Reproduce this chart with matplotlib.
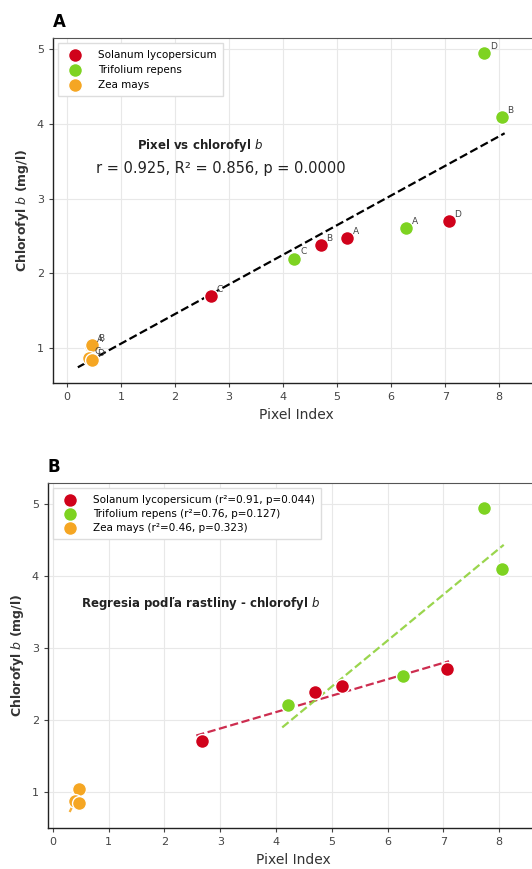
import numpy as np
import matplotlib.pyplot as plt

# Data: pixel index vs chlorophyll b, per species, samples A-D
species = ["Solanum lycopersicum", "Trifolium repens", "Zea mays"]
colors = ["#d0021b", "#7ed321", "#f5a623"]
line_colors = ["#c8163c", "#8fd13a", "#f5a623"]
sample_ids = ["A", "B", "C", "D"]

sol_x = [5.19, 4.70, 2.67, 7.07]
sol_y = [2.47, 2.38, 1.70, 2.70]
tri_x = [6.28, 8.05, 4.21, 7.72]
tri_y = [2.61, 4.09, 2.20, 4.95]
zea_x = [0.45, 0.47, 0.40, 0.46]
zea_y = [1.03, 1.04, 0.87, 0.84]

xs = [sol_x, tri_x, zea_x]
ys = [sol_y, tri_y, zea_y]

stats_text = "r = 0.925, R² = 0.856, p = 0.0000"
group_stats = ["(r²=0.91, p=0.044)", "(r²=0.76, p=0.127)", "(r²=0.46, p=0.323)"]

fig = plt.figure(figsize=(5.32, 8.69), dpi=100)
axA = fig.add_axes([0.0996, 0.559, 0.915, 0.397])
axB = fig.add_axes([0.090, 0.047, 0.924, 0.397])


def style(ax):
    ax.grid(True, color="#e8e8e8", linewidth=0.8)
    ax.set_axisbelow(True)
    for s in ["left", "bottom"]:
        ax.spines[s].set_color("#222222")
        ax.spines[s].set_linewidth(1.0)
    ax.spines["top"].set_color("#555555")
    ax.spines["right"].set_visible(False)
    ax.tick_params(labelsize=8, colors="#444444", length=3)
    ax.set_xticks(range(0, 9))
    ax.set_yticks([1, 2, 3, 4, 5])
    ax.set_xlabel("Pixel Index", fontsize=10, color="#333333")
    ax.set_ylabel(r"Chlorofyl $\bf{\it{b}}$ (mg/l)", fontsize=9,
                  fontweight="bold", color="#333333")


# Panel A
style(axA)
for name, c, x, y in zip(species, colors, xs, ys):
    axA.scatter(x, y, s=100, color=c, edgecolor="white", linewidth=1,
                label=name, zorder=3)
    for xi, yi, sid in zip(x, y, sample_ids):
        axA.annotate(sid, (xi, yi), xytext=(4, 3), textcoords="offset points",
                     fontsize=6.5, color="#444444", zorder=4)

all_x = np.concatenate([np.array(x) for x in xs])
all_y = np.concatenate([np.array(y) for y in ys])
k, b = np.polyfit(all_x, all_y, 1)
lx = np.linspace(all_x.min() - 0.2, all_x.max() + 0.05, 50)
axA.plot(lx, k * lx + b, "k--", linewidth=1.6, zorder=2)

axA.text(2.47, 3.72, r"Pixel vs chlorofyl $\bf{\it{b}}$", fontsize=8.5,
         fontweight="bold", ha="center", va="center", color="#222222")
axA.text(2.85, 3.4, stats_text, fontsize=10.5, ha="center", va="center",
         color="#222222")
axA.set_xlim(-0.26, 8.75)
axA.set_ylim(0.53, 5.15)
axA.legend(loc="upper left", fontsize=7.5, frameon=True, framealpha=1,
           edgecolor="#dddddd", fancybox=False, handletextpad=1.2,
           borderpad=0.6, labelspacing=0.5)
axA.text(0.0, 1.02, "A", transform=axA.transAxes, fontsize=12,
         fontweight="bold", ha="left", va="bottom")

# Panel B
style(axB)
for name, c, lc, x, y, st in zip(species, colors, line_colors, xs, ys,
                                 group_stats):
    x = np.array(x)
    y = np.array(y)
    axB.scatter(x, y, s=100, color=c, edgecolor="white", linewidth=1,
                label=f"{name} {st}", zorder=3)
    kk, bb = np.polyfit(x, y, 1)
    gx = np.linspace(x.min() - 0.1, x.max() + 0.03, 20)
    axB.plot(gx, kk * gx + bb, "--", color=lc, linewidth=1.6, alpha=0.9,
             zorder=2)

axB.text(2.65, 3.61, r"Regresia podľa rastliny - chlorofyl $\bf{\it{b}}$",
         fontsize=8.5, fontweight="bold", ha="center", va="center",
         color="#222222")
axB.set_xlim(-0.09, 8.72)
axB.set_ylim(0.49, 5.29)
axB.legend(loc="upper left", fontsize=7.5, frameon=True, framealpha=1,
           edgecolor="#dddddd", fancybox=False, handletextpad=1.2,
           borderpad=0.6, labelspacing=0.4)
axB.text(0.0, 1.02, "B", transform=axB.transAxes, fontsize=12,
         fontweight="bold", ha="left", va="bottom")

fig.savefig("out.png", dpi=100)
